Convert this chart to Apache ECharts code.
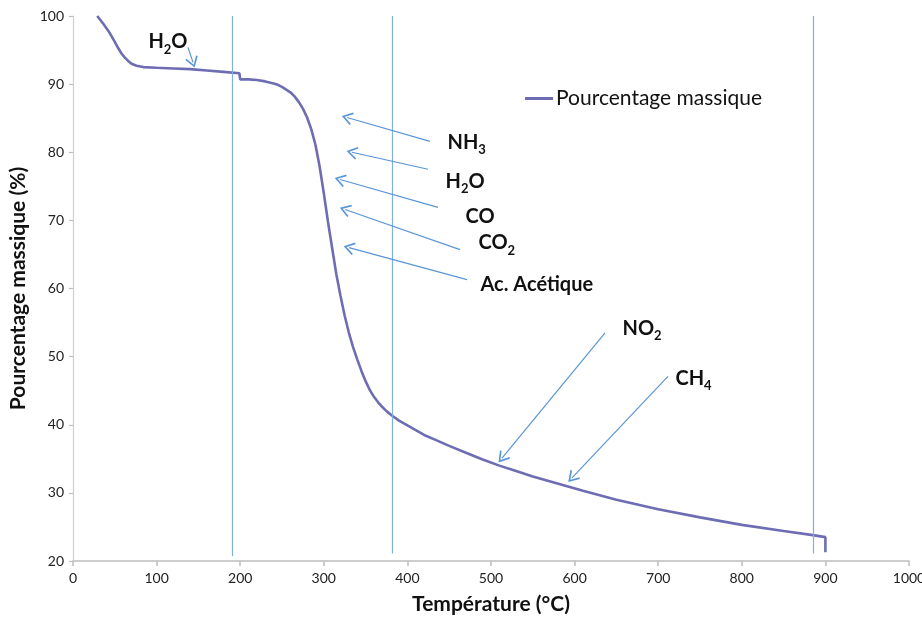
<!DOCTYPE html>
<html>
<head>
<meta charset="utf-8">
<script src="https://cdn.jsdelivr.net/npm/echarts@6/dist/echarts.min.js"></script>
<style>
html,body{margin:0;padding:0;background:#fff;}
#chart{width:922px;height:620px;}
</style>
</head>
<body>
<div id="chart"></div>
<script>
// Temperature (°C) and mass percentage (%)
var temperature = [29,36,44,50,54,58,62,66,70,76,84,100,120,140,160,180,199,200,210,220,230,240,245,250,255,260,265,270,275,280,285,290,295,300,305,310,315,320,325,330,335,340,345,350,355,360,365,370,375,381,390,400,410,420,435,450,470,490,510,530,550,570,590,610,650,700,750,800,850,885,900,900];
var massPct =     [100,98.9,97.5,96.2,95.3,94.5,93.9,93.4,93.0,92.7,92.5,92.4,92.3,92.2,92.0,91.8,91.6,90.7,90.7,90.6,90.4,90.1,89.9,89.6,89.2,88.8,88.2,87.4,86.4,85.1,83.4,81.1,77.9,74.0,69.8,65.9,62.1,58.9,56.0,53.5,51.4,49.6,47.9,46.4,45.1,44.1,43.3,42.6,42.0,41.4,40.6,39.9,39.2,38.5,37.7,36.9,35.9,34.9,34.0,33.2,32.4,31.7,31.0,30.3,29.0,27.6,26.4,25.3,24.4,23.8,23.5,21.3];

// Vertical marker lines: temperature, bottom, top
var vLineT = [191, 382, 885];
var vLineBottom = [20.7, 21.1, 21.1];
var vLineTop = [100, 100, 100];

// Annotation arrows: [fromT, fromPct, toT, toPct]
var arrowFromT   = [137.6, 427, 424.6, 436.6, 462.9, 471.3, 636.4, 711.7];
var arrowFromPct = [95.4, 81.6, 77.5, 71.9, 65.7, 61.3, 53.5, 47.1];
var arrowToT     = [143.5, 327.8, 333.7, 319.4, 325.4, 330.1, 513.2, 596.9];
var arrowToPct   = [93.2, 85.1, 80.0, 76.0, 71.6, 66.0, 35.1, 32.2];

// Annotation labels: main text, subscript, anchor T, anchor %, alignment
var labelMain = ['H', 'NH', 'H', 'CO', 'CO', 'Ac. Acétique', 'NO', 'CH'];
var labelSub  = ['2', '3', '2', '', '2', '', '2', '4'];
var labelTail = ['O', '', 'O', '', '', '', '', ''];
var labelT    = [113.6, 447.4, 445, 469, 484.4, 486.8, 656.7, 720];
var labelPct  = [95.9, 81.1, 75.4, 70.3, 66.4, 60.3, 53.9, 46.5];
var labelAlign = ['center','left','left','left','left','left','left','left'];

var FONT = 'Lato, "Open Sans", sans-serif';
var curveColor = '#6e6db3';
var vColor = '#7fb2e2';
var arrowColor = '#5a95d6';
var chevron = 'path://M5,0 L10,8.6 L8.9,9.4 L5,2.6 L1.1,9.4 L0,8.6 Z';

var lineData = temperature.map(function(t,i){return [t, massPct[i]];});

var markLines = [];
vLineT.forEach(function(t,i){
  markLines.push([
    {coord:[t, vLineBottom[i]], symbol:'none', lineStyle:{color:vColor, width:1.2, type:'solid'}},
    {coord:[t, vLineTop[i]], symbol:'none'}
  ]);
});
arrowFromT.forEach(function(t,i){
  markLines.push([
    {coord:[t, arrowFromPct[i]], symbol:'none', lineStyle:{color:arrowColor, width:1.2, type:'solid'}},
    {coord:[arrowToT[i], arrowToPct[i]], symbol:chevron, symbolSize:[13,11]}
  ]);
});

var markPoints = labelMain.map(function(m,i){
  var f = '{a|' + m + '}';
  if (labelSub[i]) f += '{s|' + labelSub[i] + '}';
  if (labelTail[i]) f += '{a|' + labelTail[i] + '}';
  return {
    coord:[labelT[i], labelPct[i]],
    symbol:'circle', symbolSize:1,
    itemStyle:{color:'rgba(0,0,0,0)'},
    label:{
      show:true,
      position: labelAlign[i]==='center' ? 'inside' : 'right',
      distance:0,
      formatter:f,
      rich:{
        a:{fontSize:20, fontWeight:'bold', color:'#111', fontFamily:FONT, lineHeight:24, verticalAlign:'top'},
        s:{fontSize:13, fontWeight:'bold', color:'#111', fontFamily:FONT, lineHeight:14, verticalAlign:'bottom', padding:[12,0,0,0]}
      }
    }
  };
});

var chart = echarts.init(document.getElementById('chart'));
chart.setOption({
  animation:false,
  backgroundColor:'#fff',
  textStyle:{fontFamily:FONT},
  grid:{left:73, right:13, top:16, bottom:59, outerBoundsMode:'none', containLabel:false},
  legend:{
    left:520, top:83,
    data:[{name:'Pourcentage massique', icon:'rect'}],
    itemWidth:28, itemHeight:3, itemGap:4,
    textStyle:{fontSize:21, color:'#111', fontFamily:FONT, padding:[0,0,0,-2]}
  },
  xAxis:{
    type:'value', min:0, max:1000, interval:100,
    name:'Température (°C)', nameLocation:'middle', nameGap:33,
    nameTextStyle:{fontSize:21, fontWeight:'bold', color:'#111', fontFamily:FONT},
    axisLine:{show:true, lineStyle:{color:'#bdbdbd', width:1.5}},
    axisTick:{show:true, length:5, lineStyle:{color:'#bdbdbd', width:1.5}},
    axisLabel:{fontSize:14, color:'#222', margin:10, fontFamily:FONT, formatter:function(v){return String(v);}},
    splitLine:{show:false}
  },
  yAxis:{
    type:'value', min:20, max:100, interval:10,
    name:'Pourcentage massique (%)', nameLocation:'middle', nameGap:40,
    nameTextStyle:{fontSize:21, fontWeight:'bold', color:'#111', fontFamily:FONT},
    axisLine:{show:true, lineStyle:{color:'#cfcfcf', width:1.2}},
    axisTick:{show:true, length:4, lineStyle:{color:'#bdbdbd', width:1.2}},
    axisLabel:{fontSize:14, color:'#222', margin:9, fontFamily:FONT},
    splitLine:{show:false}
  },
  series:[{
    name:'Pourcentage massique',
    type:'line',
    data:lineData,
    showSymbol:false,
    symbol:'none',
    smooth:false,
    lineStyle:{color:curveColor, width:2.6},
    itemStyle:{color:curveColor},
    markLine:{silent:true, symbol:'none', label:{show:false}, animation:false, data:markLines},
    markPoint:{silent:true, animation:false, data:markPoints}
  }]
});
</script>
</body>
</html>
